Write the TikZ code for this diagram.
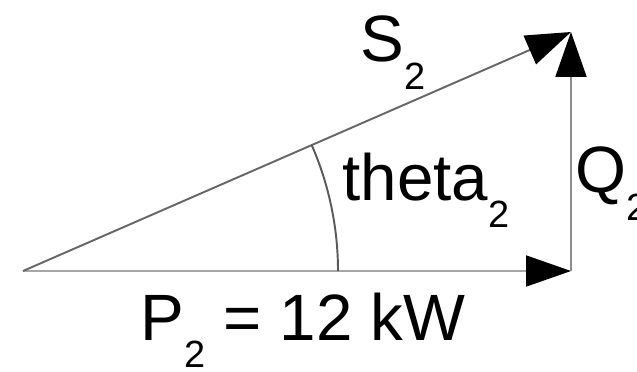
\documentclass[tikz,border=0pt]{standalone}
\usepackage{fontspec}
\setmainfont{Liberation Sans}
\usetikzlibrary{arrows.meta}

% big subscript used by every label
\newcommand{\subtwo}{\raisebox{-0.56cm}{\fontsize{21.6}{24}\selectfont 2}}

\begin{document}
\begin{tikzpicture}[x=0.02cm,y=-0.02cm,
  lbl/.style={anchor=base west,inner sep=0pt,font=\fontsize{37.3}{44}\selectfont},
  vec/.style={line width=1.1pt,-{Triangle[length=0.9cm,width=0.62cm,color=black]}}]

% Canvas: 637 x 372 px, y axis points down.
\useasboundingbox (0,0) rectangle (637,372);

% ── Corners of the triangle ──────────────────────────────────────────────────
\coordinate (O) at (23,271);
\coordinate (P) at (571,271);
\coordinate (S) at (571,32);

% ── Vectors ──────────────────────────────────────────────────────────────────
\draw[vec,black!35] (O) -- (P);
\draw[vec,black!45] (P) -- (S);
\draw[vec,black!60] (O) -- (S);

% ── Angle arc (radius 315 px) ────────────────────────────────────────────────
\draw[black!65,line width=1.1pt] (338,271) arc[start angle=0,end angle=-23.6,radius=315];

% ── Labels ───────────────────────────────────────────────────────────────────
\node[lbl] (lblS) at (360,62)  {S\subtwo};
\node[lbl] (lblT) at (342,200) {theta\subtwo};
\node[lbl] (lblQ) at (575,193) {Q\subtwo};
\node[lbl] (lblP) at (140,340) {P\subtwo{} = 12 kW};

\end{tikzpicture}
\end{document}
